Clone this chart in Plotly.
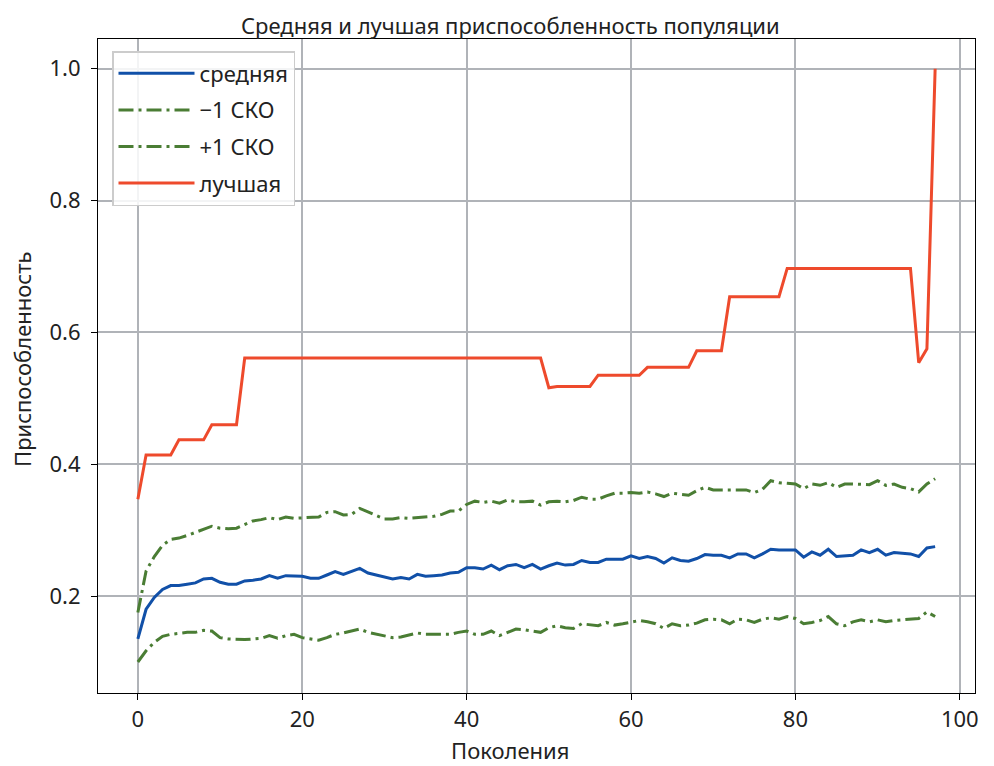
import plotly.graph_objects as go

generations = list(range(98))

mean_fit = [
    0.135, 0.180, 0.198, 0.210, 0.216, 0.216, 0.218, 0.220, 0.226, 0.227,
    0.221, 0.218, 0.218, 0.223, 0.224, 0.226, 0.231, 0.227, 0.231, 0.230,
    0.230, 0.227, 0.227, 0.232, 0.237, 0.233, 0.237, 0.242, 0.235, 0.232,
    0.228, 0.226, 0.228, 0.226, 0.233, 0.230, 0.231, 0.232, 0.235, 0.236,
    0.243, 0.243, 0.241, 0.247, 0.240, 0.246, 0.248, 0.243, 0.248, 0.241,
    0.246, 0.250, 0.247, 0.248, 0.254, 0.251, 0.251, 0.256, 0.256, 0.256,
    0.261, 0.257, 0.260, 0.257, 0.250, 0.258, 0.254, 0.253, 0.257, 0.263,
    0.262, 0.262, 0.258, 0.264, 0.264, 0.258, 0.264, 0.271, 0.270, 0.270,
    0.270, 0.259, 0.267, 0.262, 0.271, 0.260, 0.261, 0.262, 0.270, 0.266,
    0.271, 0.262, 0.266, 0.265, 0.264, 0.260, 0.273, 0.275,
]

minus_std = [
    0.100, 0.117, 0.130, 0.139, 0.142, 0.144, 0.145, 0.145, 0.148, 0.147,
    0.137, 0.135, 0.134, 0.134, 0.135, 0.136, 0.140, 0.136, 0.140, 0.142,
    0.137, 0.135, 0.133, 0.137, 0.142, 0.144, 0.147, 0.150, 0.145, 0.142,
    0.140, 0.137, 0.138, 0.141, 0.144, 0.142, 0.142, 0.142, 0.142, 0.145,
    0.147, 0.142, 0.142, 0.147, 0.140, 0.145, 0.150, 0.149, 0.147, 0.145,
    0.152, 0.155, 0.152, 0.151, 0.158, 0.156, 0.155, 0.160, 0.156, 0.158,
    0.161, 0.163, 0.161, 0.158, 0.151, 0.158, 0.155, 0.156, 0.159, 0.164,
    0.165, 0.164, 0.158, 0.165, 0.164, 0.160, 0.165, 0.167, 0.165, 0.169,
    0.166, 0.158, 0.160, 0.163, 0.169, 0.158, 0.155, 0.161, 0.164, 0.161,
    0.164, 0.161, 0.163, 0.164, 0.164, 0.166, 0.176, 0.169,
]

plus_std = [
    0.175, 0.238, 0.260, 0.277, 0.286, 0.288, 0.292, 0.297, 0.302, 0.306,
    0.303, 0.302, 0.303, 0.309, 0.314, 0.316, 0.319, 0.316, 0.320, 0.318,
    0.319, 0.319, 0.320, 0.327, 0.328, 0.323, 0.324, 0.333, 0.328, 0.323,
    0.317, 0.317, 0.319, 0.318, 0.319, 0.321, 0.321, 0.324, 0.329, 0.329,
    0.339, 0.344, 0.342, 0.344, 0.341, 0.346, 0.343, 0.343, 0.344, 0.338,
    0.343, 0.344, 0.343, 0.345, 0.350, 0.347, 0.347, 0.352, 0.356, 0.356,
    0.357, 0.356, 0.358, 0.355, 0.351, 0.356, 0.354, 0.353, 0.360, 0.365,
    0.361, 0.361, 0.362, 0.362, 0.361, 0.357, 0.362, 0.375, 0.372, 0.371,
    0.370, 0.363, 0.370, 0.368, 0.372, 0.365, 0.370, 0.370, 0.369, 0.369,
    0.375, 0.368, 0.370, 0.365, 0.363, 0.358, 0.370, 0.378,
]

best_fit = [
    0.347, 0.414, 0.414, 0.414, 0.414, 0.437, 0.437, 0.437, 0.437, 0.460,
    0.460, 0.460, 0.460, 0.561, 0.561, 0.561, 0.561, 0.561, 0.561, 0.561,
    0.561, 0.561, 0.561, 0.561, 0.561, 0.561, 0.561, 0.561, 0.561, 0.561,
    0.561, 0.561, 0.561, 0.561, 0.561, 0.561, 0.561, 0.561, 0.561, 0.561,
    0.561, 0.561, 0.561, 0.561, 0.561, 0.561, 0.561, 0.561, 0.561, 0.561,
    0.516, 0.518, 0.518, 0.518, 0.518, 0.518, 0.535, 0.535, 0.535, 0.535,
    0.535, 0.535, 0.547, 0.547, 0.547, 0.547, 0.547, 0.547, 0.572, 0.572,
    0.572, 0.572, 0.654, 0.654, 0.654, 0.654, 0.654, 0.654, 0.654, 0.697,
    0.697, 0.697, 0.697, 0.697, 0.697, 0.697, 0.697, 0.697, 0.697, 0.697,
    0.697, 0.697, 0.697, 0.697, 0.697, 0.554, 0.575, 1.000,
]

x_ticks = [0, 20, 40, 60, 80, 100]
y_ticks = [0.2, 0.4, 0.6, 0.8, 1.0]

BLUE = "#1150a8"
GREEN = "#4a7d34"
RED = "#ee4a2c"
DASHDOT = "15px,5px,3px,5px"
FONT = "Noto Sans"
TXT = "#222222"
FS = 22

# figure size and plot area in window pixels (page body has an 8px margin)
FW, FH = 986, 758
PL, PR, PT, PB = 98, 975, 39, 693
PW, PH = PR - PL, PB - PT

fig = go.Figure()
fig.add_trace(go.Scatter(x=generations, y=mean_fit, mode="lines", name="средняя",
                         legendgroup="a", line=dict(color=BLUE, width=3)))
fig.add_trace(go.Scatter(x=generations, y=minus_std, mode="lines", name="−1 СКО",
                         legendgroup="b", line=dict(color=GREEN, width=3, dash=DASHDOT)))
fig.add_trace(go.Scatter(x=generations, y=plus_std, mode="lines", name="+1 СКО",
                         legendgroup="c", line=dict(color=GREEN, width=3, dash=DASHDOT)))
fig.add_trace(go.Scatter(x=generations, y=best_fit, mode="lines", name="лучшая",
                         legendgroup="d", line=dict(color=RED, width=3)))

axis_common = dict(
    showgrid=True, gridcolor="#b0b3b8", gridwidth=1.6,
    showline=True, linecolor="black", linewidth=1.2, mirror=True,
    ticks="outside", ticklen=6, tickwidth=1.2, tickcolor="black",
    zeroline=False, automargin=False,
    tickfont=dict(family=FONT, size=FS, color=TXT),
)

fig.update_layout(
    width=FW, height=FH,
    paper_bgcolor="white", plot_bgcolor="white",
    margin=dict(l=PL - 8, r=FW + 8 - PR, t=PT - 8, b=FH + 8 - PB),
    font=dict(family=FONT, size=FS, color=TXT),
    xaxis=dict(range=[-4.85, 101.85], tickvals=x_ticks, **axis_common),
    yaxis=dict(range=[0.053, 1.045], tickvals=y_ticks, tickformat=".1f",
               ticklabelstandoff=6, **axis_common),
    legend=dict(x=(112 - PL) / PW, y=1 - (51 - PT) / PH, xanchor="left", yanchor="top",
                bgcolor="rgba(255,255,255,0.85)", bordercolor="#cccccc", borderwidth=1.5,
                font=dict(family=FONT, size=FS, color=TXT),
                tracegroupgap=5, itemwidth=76),
    showlegend=True,
    annotations=[
        dict(text="Средняя и лучшая приспособленность популяции", xref="paper", yref="paper",
             x=(510 - PL) / PW, y=1 + (PT - 8) / PH, xanchor="center", yanchor="top",
             showarrow=False, font=dict(family=FONT, size=FS, color=TXT)),
        dict(text="Поколения", xref="paper", yref="paper",
             x=(510 - PL) / PW, y=-(750 - PB) / PH, xanchor="center", yanchor="middle",
             showarrow=False, font=dict(family=FONT, size=FS, color=TXT)),
        dict(text="Приспособленность", xref="paper", yref="paper",
             x=-(PL - 22) / PW, y=(PB - 360) / PH, xanchor="center", yanchor="middle",
             textangle=-90, showarrow=False, font=dict(family=FONT, size=FS, color=TXT)),
    ],
)

fig.write_html("out.html")
